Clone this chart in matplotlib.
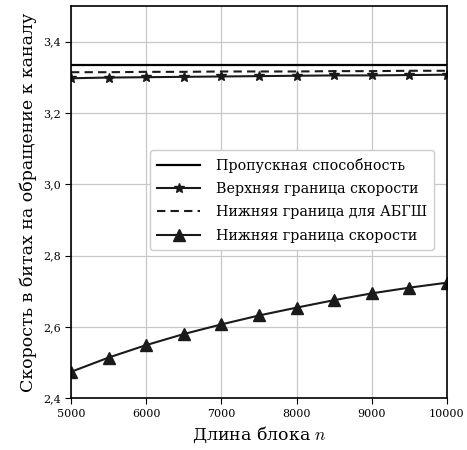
import matplotlib
matplotlib.use("Agg")
import matplotlib.pyplot as plt
from matplotlib.ticker import FuncFormatter

plt.rcParams["font.family"] = "DejaVu Serif"
plt.rcParams["mathtext.fontset"] = "cm"

n = [5000, 5500, 6000, 6500, 7000, 7500, 8000, 8500, 9000, 9500, 10000]
capacity = [3.333] * len(n)
upper = [3.297, 3.299, 3.300, 3.301, 3.302, 3.303, 3.304, 3.305, 3.305, 3.306, 3.307]
awgn_lower = [3.314, 3.314, 3.315, 3.315, 3.316, 3.316, 3.316, 3.317, 3.317, 3.318, 3.318]
lower = [2.474, 2.514, 2.549, 2.580, 2.607, 2.632, 2.654, 2.675, 2.694, 2.710, 2.724]

labels = ["Пропускная способность", "Верхняя граница скорости",
          "Нижняя граница для АБГШ", "Нижняя граница скорости"]

fig, ax = plt.subplots(figsize=(4.67, 4.5), dpi=100)
col = "#1a1a1a"
ax.plot(n, capacity, color="black", lw=1.6, label=labels[0])
ax.plot(n, upper, color=col, lw=1.5, marker="*", ms=7, label=labels[1])
ax.plot(n, awgn_lower, color=col, lw=1.5, ls=(0, (4, 2.5)), label=labels[2])
ax.plot(n, lower, color=col, lw=1.5, marker="^", ms=8, label=labels[3])

ax.set_xlim(5000, 10000)
ax.set_ylim(2.4, 3.5)
ax.set_xticks([5000, 6000, 7000, 8000, 9000, 10000])
ax.set_yticks([2.4, 2.6, 2.8, 3.0, 3.2, 3.4])
ax.yaxis.set_major_formatter(FuncFormatter(lambda v, p: f"{v:.1f}".replace(".", ",")))
ax.tick_params(direction="out", length=4, labelsize=8)
ax.grid(color="#c8c8c8", lw=0.9)
ax.set_axisbelow(True)
for s in ax.spines.values():
    s.set_linewidth(1.2)

ax.set_xlabel("Длина блока $n$", fontsize=12.5)
ax.set_ylabel("Скорость в битах на обращение к каналу", fontsize=12.5)

ax.legend(loc="center right", bbox_to_anchor=(0.985, 0.505), fontsize=10.3,
          handlelength=3, handletextpad=1.1, framealpha=1, edgecolor="#cccccc",
          fancybox=True, borderpad=0.5, labelspacing=0.65)

fig.subplots_adjust(left=0.152, right=0.957, top=0.987, bottom=0.115)
fig.savefig("out.png", dpi=100)
